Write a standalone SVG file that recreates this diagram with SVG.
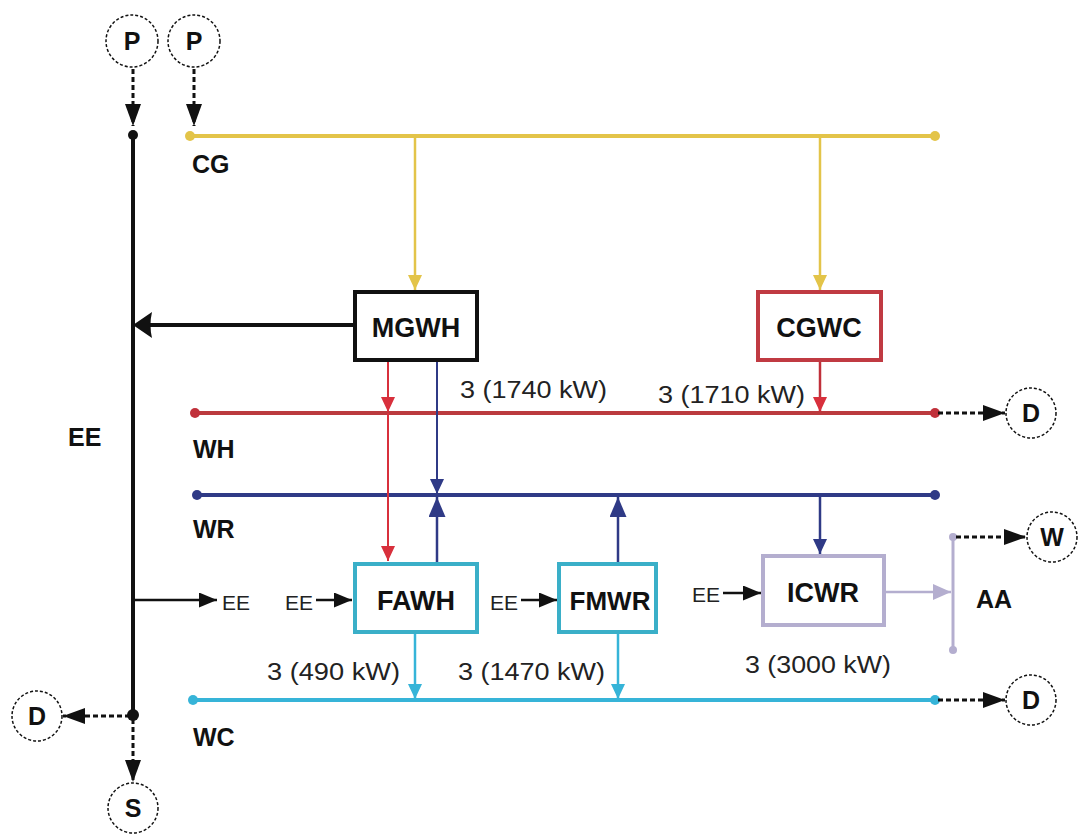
<svg xmlns="http://www.w3.org/2000/svg" width="1081" height="840" viewBox="0 0 1081 840">
<style>
.bl{font-family:"Liberation Sans",Arial,sans-serif;font-weight:bold;fill:#111;}
.rg{font-family:"Liberation Sans",Arial,sans-serif;fill:#222;}
.circ{fill:#fff;stroke:#111;stroke-width:1.5;stroke-dasharray:3 2;}
.dash{stroke:#111;stroke-width:3;stroke-dasharray:5 3;fill:none;}
.box{fill:#fff;stroke-width:4;}
</style>
<defs>
<marker id="ak" viewBox="0 0 10 10" refX="10" refY="5" markerWidth="22" markerHeight="16" markerUnits="userSpaceOnUse" orient="auto" preserveAspectRatio="none"><path d="M0,0 L10,5 L0,10 z" fill="#111"/></marker>
<marker id="aks" viewBox="0 0 10 10" refX="10" refY="5" markerWidth="18" markerHeight="15" markerUnits="userSpaceOnUse" orient="auto" preserveAspectRatio="none"><path d="M0,0 L10,5 L0,10 z" fill="#111"/></marker>
<marker id="ay" viewBox="0 0 10 10" refX="10" refY="5" markerWidth="15" markerHeight="14" markerUnits="userSpaceOnUse" orient="auto" preserveAspectRatio="none"><path d="M0,0 L10,5 L0,10 z" fill="#E3C449"/></marker>
<marker id="ar" viewBox="0 0 10 10" refX="10" refY="5" markerWidth="15" markerHeight="14" markerUnits="userSpaceOnUse" orient="auto" preserveAspectRatio="none"><path d="M0,0 L10,5 L0,10 z" fill="#D8303C"/></marker>
<marker id="ab" viewBox="0 0 10 10" refX="10" refY="5" markerWidth="15" markerHeight="14" markerUnits="userSpaceOnUse" orient="auto" preserveAspectRatio="none"><path d="M0,0 L10,5 L0,10 z" fill="#2F3A86"/></marker>
<marker id="abl" viewBox="0 0 10 10" refX="10" refY="5" markerWidth="20" markerHeight="17" markerUnits="userSpaceOnUse" orient="auto" preserveAspectRatio="none"><path d="M0,0 L10,5 L0,10 z" fill="#2F3A86"/></marker>
<marker id="ac" viewBox="0 0 10 10" refX="10" refY="5" markerWidth="15" markerHeight="14" markerUnits="userSpaceOnUse" orient="auto" preserveAspectRatio="none"><path d="M0,0 L10,5 L0,10 z" fill="#36B4D8"/></marker>
<marker id="al" viewBox="0 0 10 10" refX="10" refY="5" markerWidth="18" markerHeight="16" markerUnits="userSpaceOnUse" orient="auto" preserveAspectRatio="none"><path d="M0,0 L10,5 L0,10 z" fill="#B4AECF"/></marker>
</defs>
<rect width="1081" height="840" fill="#fff"/>

<g id="connectors">
  <!-- EE bus -->
  <line x1="133" y1="135" x2="133" y2="715" stroke="#111" stroke-width="4"/>
  <circle cx="133" cy="135" r="5" fill="#111"/>
  <circle cx="133" cy="715" r="6" fill="#111"/>
  <!-- P inputs -->
  <line class="dash" x1="133" y1="69" x2="133" y2="126" marker-end="url(#ak)"/>
  <line class="dash" x1="194" y1="69" x2="194" y2="126" marker-end="url(#ak)"/>
  <!-- CG line -->
  <line x1="190" y1="136" x2="935" y2="136" stroke="#E3C449" stroke-width="4"/>
  <circle cx="190" cy="136" r="5" fill="#E3C449"/>
  <circle cx="935" cy="136" r="5" fill="#E3C449"/>
  <line x1="415" y1="136" x2="415" y2="290" stroke="#E3C449" stroke-width="2.5" marker-end="url(#ay)"/>
  <line x1="820" y1="136" x2="820" y2="290" stroke="#E3C449" stroke-width="2.5" marker-end="url(#ay)"/>
  <!-- MGWH to EE -->
  <line x1="353" y1="325" x2="150" y2="325" stroke="#111" stroke-width="4"/>
  <path d="M133,325 L152,312 Q149,325 152,338 Z" fill="#111"/>
  <!-- WH line -->
  <line x1="195" y1="413" x2="935" y2="413" stroke="#BB3A3E" stroke-width="4"/>
  <circle cx="195" cy="413" r="5" fill="#C0303A"/>
  <circle cx="935" cy="413" r="5" fill="#C0303A"/>
  <line class="dash" x1="938" y1="413" x2="1005" y2="413" marker-end="url(#ak)"/>
  <!-- WR line -->
  <line x1="197" y1="495" x2="935" y2="495" stroke="#2F3A86" stroke-width="4"/>
  <circle cx="197" cy="495" r="5" fill="#2F3A86"/>
  <circle cx="935" cy="495" r="5" fill="#2F3A86"/>
  <!-- WC line -->
  <line x1="193" y1="700" x2="935" y2="700" stroke="#36B4D8" stroke-width="4"/>
  <circle cx="193" cy="700" r="5" fill="#36B4D8"/>
  <circle cx="935" cy="700" r="5" fill="#36B4D8"/>
  <line class="dash" x1="938" y1="700" x2="1005" y2="700" marker-end="url(#ak)"/>
  <!-- CGWC to WH -->
  <line x1="820" y1="362" x2="820" y2="412" stroke="#C0303A" stroke-width="2.5" marker-end="url(#ar)"/>
  <!-- MGWH red to WH and FAWH -->
  <line x1="388" y1="362" x2="388" y2="412" stroke="#D8303C" stroke-width="2" marker-end="url(#ar)"/>
  <line x1="388" y1="413" x2="388" y2="561" stroke="#D8303C" stroke-width="2" marker-end="url(#ar)"/>
  <!-- MGWH blue to WR -->
  <line x1="437" y1="362" x2="437" y2="494" stroke="#2F3A86" stroke-width="2" marker-end="url(#ab)"/>
  <line x1="437" y1="563" x2="437" y2="497" stroke="#2F3A86" stroke-width="2.5" marker-end="url(#abl)"/>
  <!-- FMWR to WR -->
  <line x1="618" y1="563" x2="618" y2="497" stroke="#2F3A86" stroke-width="2.5" marker-end="url(#abl)"/>
  <!-- WR to ICWR -->
  <line x1="820" y1="495" x2="820" y2="554" stroke="#2F3A86" stroke-width="2.5" marker-end="url(#ab)"/>
  <!-- FAWH, FMWR to WC -->
  <line x1="415" y1="634" x2="415" y2="699" stroke="#36B4D8" stroke-width="2.5" marker-end="url(#ac)"/>
  <line x1="618" y1="633" x2="618" y2="699" stroke="#36B4D8" stroke-width="2.5" marker-end="url(#ac)"/>
  <!-- ICWR to AA -->
  <line x1="885" y1="592" x2="951" y2="592" stroke="#B4AECF" stroke-width="2.5" marker-end="url(#al)"/>
  <line x1="953" y1="537" x2="953" y2="650" stroke="#B4AECF" stroke-width="3"/>
  <circle cx="953" cy="537" r="4" fill="#B4AECF"/>
  <circle cx="953" cy="650" r="4" fill="#B4AECF"/>
  <line class="dash" x1="956" y1="537" x2="1026" y2="537" marker-end="url(#ak)"/>
  <!-- EE arrows -->
  <line x1="133" y1="600" x2="217" y2="600" stroke="#111" stroke-width="2.5" marker-end="url(#aks)"/>
  <line x1="316" y1="600" x2="352" y2="600" stroke="#111" stroke-width="2.5" marker-end="url(#aks)"/>
  <line x1="521" y1="600" x2="557" y2="600" stroke="#111" stroke-width="2.5" marker-end="url(#aks)"/>
  <line x1="723" y1="593" x2="761" y2="593" stroke="#111" stroke-width="2.5" marker-end="url(#aks)"/>
  <!-- bottom outputs -->
  <line class="dash" x1="130" y1="716" x2="63" y2="716" marker-end="url(#ak)"/>
  <line class="dash" x1="133" y1="719" x2="133" y2="782" marker-end="url(#ak)"/>
</g>

<g id="node-P1"><circle class="circ" cx="132" cy="41" r="26"/><text class="bl" x="132" y="50" font-size="25" text-anchor="middle">P</text></g>
<g id="node-P2"><circle class="circ" cx="194" cy="41" r="26"/><text class="bl" x="194" y="50" font-size="25" text-anchor="middle">P</text></g>
<g id="node-D1"><circle class="circ" cx="1031" cy="413" r="25"/><text class="bl" x="1031" y="422" font-size="25" text-anchor="middle">D</text></g>
<g id="node-W"><circle class="circ" cx="1052" cy="537" r="25"/><text class="bl" x="1052" y="546" font-size="25" text-anchor="middle">W</text></g>
<g id="node-D2"><circle class="circ" cx="1031" cy="700" r="25"/><text class="bl" x="1031" y="709" font-size="25" text-anchor="middle">D</text></g>
<g id="node-D3"><circle class="circ" cx="37" cy="716" r="25"/><text class="bl" x="37" y="725" font-size="25" text-anchor="middle">D</text></g>
<g id="node-S"><circle class="circ" cx="133" cy="808" r="25"/><text class="bl" x="133" y="817" font-size="25" text-anchor="middle">S</text></g>

<g id="node-MGWH"><rect class="box" x="355" y="292" width="122" height="68" stroke="#111"/><text class="bl" x="416" y="337" font-size="27" text-anchor="middle">MGWH</text></g>
<g id="node-CGWC"><rect class="box" x="758" y="292" width="123" height="68" stroke="#C03A42"/><text class="bl" x="819" y="337" font-size="27" text-anchor="middle">CGWC</text></g>
<g id="node-FAWH"><rect class="box" x="355" y="564" width="122" height="68" stroke="#3AAFC8"/><text class="bl" x="416" y="610" font-size="27" text-anchor="middle">FAWH</text></g>
<g id="node-FMWR"><rect class="box" x="559" y="564" width="97" height="68" stroke="#3AAFC8"/><text class="bl" x="610" y="610" font-size="26" text-anchor="middle">FMWR</text></g>
<g id="node-ICWR"><rect class="box" x="763" y="556" width="121" height="69" stroke="#B4AECF"/><text class="bl" x="823" y="602" font-size="27" text-anchor="middle">ICWR</text></g>

<g id="labels">
  <text class="bl" x="192" y="173" font-size="25">CG</text>
  <text class="bl" x="193" y="458" font-size="25">WH</text>
  <text class="bl" x="193" y="538" font-size="25">WR</text>
  <text class="bl" x="193" y="746" font-size="25">WC</text>
  <text class="bl" x="68" y="446" font-size="25">EE</text>
  <text class="bl" x="976" y="608" font-size="25">AA</text>
  <text class="rg" x="222" y="610" font-size="21">EE</text>
  <text class="rg" x="285" y="610" font-size="21">EE</text>
  <text class="rg" x="490" y="610" font-size="21">EE</text>
  <text class="rg" x="692" y="602" font-size="21">EE</text>
  <text class="rg" x="460" y="398" font-size="23" textLength="147" lengthAdjust="spacingAndGlyphs">3 (1740 kW)</text>
  <text class="rg" x="658" y="403" font-size="23" textLength="147" lengthAdjust="spacingAndGlyphs">3 (1710 kW)</text>
  <text class="rg" x="267" y="680" font-size="23" textLength="133" lengthAdjust="spacingAndGlyphs">3 (490 kW)</text>
  <text class="rg" x="458" y="680" font-size="23" textLength="147" lengthAdjust="spacingAndGlyphs">3 (1470 kW)</text>
  <text class="rg" x="745" y="673" font-size="23" textLength="146" lengthAdjust="spacingAndGlyphs">3 (3000 kW)</text>
</g>
</svg>
